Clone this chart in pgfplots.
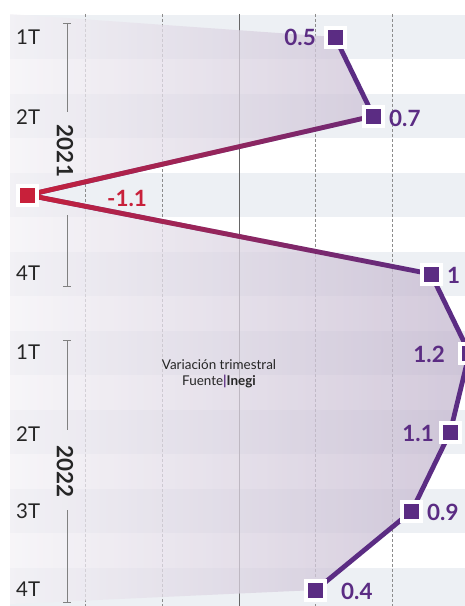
\documentclass[border=0pt]{standalone}
\usepackage{fontspec}
\setmainfont{Lato}
\usepackage{pgfplots}
\usepackage{pgfplotstable}
\pgfplotsset{compat=1.18}
\usetikzlibrary{fadings}
\definecolor{purp}{RGB}{91,44,131}
\definecolor{redc}{RGB}{200,32,58}
\definecolor{band}{RGB}{237,240,244}
\definecolor{txt}{RGB}{38,38,38}
\definecolor{fillL}{RGB}{244,242,246}
\definecolor{fillR}{RGB}{195,182,206}
\tikzfading[name=redfade, left color=transparent!0, middle color=transparent!30, right color=transparent!100]

\pgfplotstableread{
q v
1 0.5
2 0.7
3 -1.1
4 1.0
5 1.2
6 1.1
7 0.9
8 0.4
}\gdp

\begin{document}
\begin{tikzpicture}[x=1bp,y=1bp]
% row bands
\foreach \c in {37,116,195,274,353,432,511,590}{
  \fill[band] (10,-\c+22) rectangle (465,-\c-22);
}
% grid lines
\foreach \x in {85.4,162.2,315.8,392.6}{
  \draw[black!45, dash pattern=on 3bp off 2bp, line width=0.8bp] (\x,-14) -- (\x,-606);
}
\draw[black!60, line width=1bp] (239,-14) -- (239,-606);

\begin{axis}[at={(0,0)}, anchor=north west, width=465bp, height=606bp, scale only axis,
  xmin=-1.2448, xmax=1.1771, ymin=0.5316, ymax=8.2025, y dir=reverse,
  hide axis, clip=false]
\addplot[draw=none, left color=fillL, right color=fillR, fill opacity=0.75]
  coordinates {(-1.1927,0.7089) (0.5,1) (0.7,2) (-1.1,3) (1.0,4) (1.2,5) (1.1,6) (0.9,7) (0.4,8) (-1.1927,8.177)} -- cycle;
\addplot[purp, line width=4.8bp, line join=round] table[x=v, y=q] {\gdp};
\addplot[redc, line width=4.8bp, line join=round, path fading=redfade]
  coordinates {(0.7,2) (-1.1,3) (1.0,4)};
\addplot[only marks, mark=square*, mark size=9.5bp, mark options={draw=white, fill=purp, line width=4bp}]
  coordinates {(0.5,1) (0.7,2) (1.0,4) (1.2,5) (1.1,6) (0.9,7) (0.4,8)};
\addplot[only marks, mark=square*, mark size=9.5bp, mark options={draw=white, fill=redc, line width=4bp}]
  coordinates {(-1.1,3)};
\end{axis}

% quarter labels
\begin{scope}[every node/.style={anchor=west, inner sep=0pt, text=txt, font=\fontsize{20.5}{20.5}\selectfont}]
\node at (16,-37) {1T};
\node at (16,-117) {2T};
\node at (16,-273) {4T};
\node at (16,-352) {1T};
\node at (16,-434) {2T};
\node at (16,-511) {3T};
\node at (16,-589) {4T};
\end{scope}

% year brackets
\begin{scope}[black!50, line width=0.9bp]
\draw (67,-23) -- (67,-112); \draw (63,-23) -- (71,-23);
\draw (67,-215) -- (67,-286); \draw (63,-286) -- (71,-286);
\draw (67,-340) -- (67,-430); \draw (63,-340) -- (71,-340);
\draw (67,-510) -- (67,-602); \draw (63,-602) -- (71,-602);
\end{scope}
\node[rotate=-90, inner sep=0pt, text=txt, font=\fontsize{22.5}{22.5}\selectfont\bfseries] at (65,-151) {2021};
\node[rotate=-90, inner sep=0pt, text=txt, font=\fontsize{22.5}{22.5}\selectfont\bfseries] at (65,-471) {2022};

% value labels
\begin{scope}[every node/.style={inner sep=0pt, text=purp, font=\fontsize{22.5}{22.5}\selectfont\bfseries}]
\node[anchor=east] at (316,-37) {0.5};
\node[anchor=west] at (389,-118) {0.7};
\node[text=redc] at (127,-198) {-1.1};
\node[anchor=west] at (447,-275) {1};
\node[anchor=east] at (445,-354) {1.2};
\node[anchor=east] at (434,-433) {1.1};
\node[anchor=west] at (427,-512) {0.9};
\node[anchor=west] at (341,-591) {0.4};
\end{scope}

% note
\node[inner sep=0pt, text=txt, font=\fontsize{13.5}{13.5}\selectfont] at (219,-365) {Variación trimestral};
\node[inner sep=0pt, text=txt, font=\fontsize{13.5}{13.5}\selectfont] at (219,-382) {Fuente{\color{purp}\textbf{|}}\textbf{Inegi}};

\pgfresetboundingbox
\useasboundingbox (0,0) rectangle (465,-606);
\end{tikzpicture}
\end{document}
